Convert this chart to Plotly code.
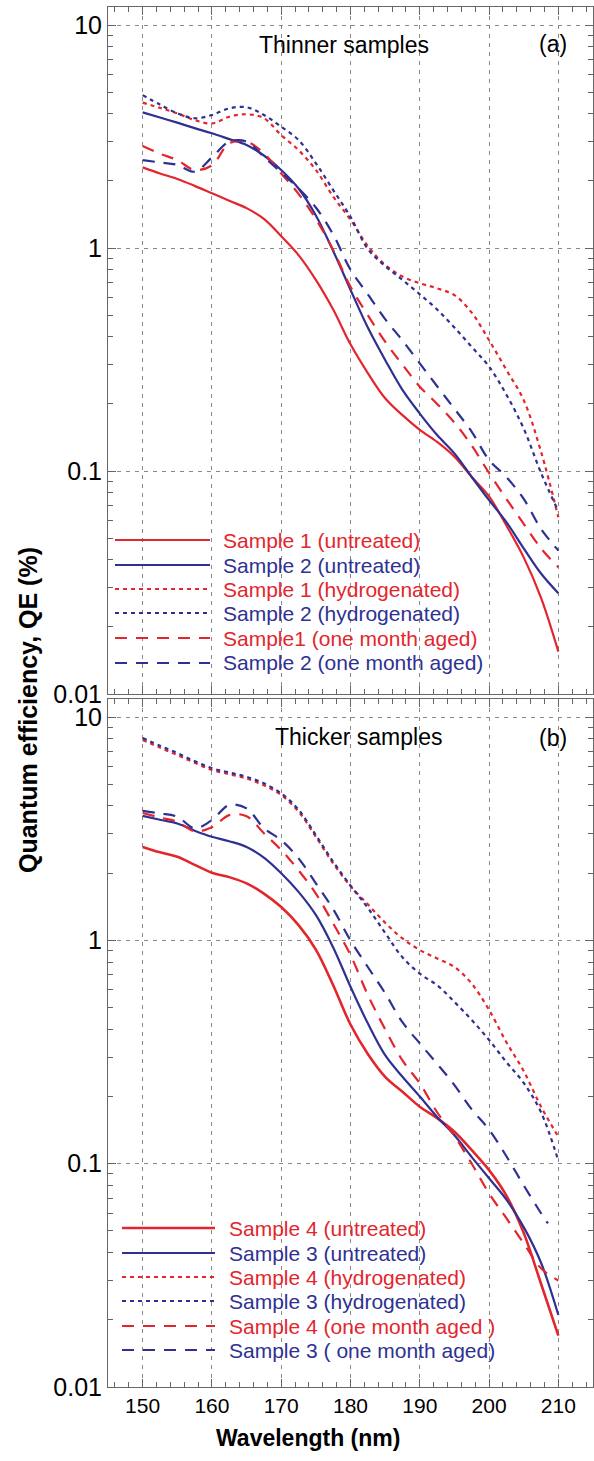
import plotly.graph_objects as go

# ---------------- data ----------------
wl = [150, 152.5, 155, 157.5, 160, 162.5, 165, 167.5, 170, 172.5, 175, 177.5, 180,
      182.5, 185, 187.5, 190, 192.5, 195, 197.5, 200, 202.5, 205, 207.5, 210]
wl_s3_aged = wl[:-1] + [208.5]

# panel (a) thinner samples
s1_untreated = [2.30, 2.16, 2.04, 1.90, 1.76, 1.63, 1.51, 1.35, 1.13, 0.93, 0.72, 0.53, 0.37,
                0.275, 0.212, 0.178, 0.153, 0.135, 0.116, 0.094, 0.077, 0.057, 0.041, 0.027, 0.0155]
s2_untreated = [4.06, 3.85, 3.65, 3.45, 3.27, 3.08, 2.90, 2.60, 2.24, 1.85, 1.40, 0.97, 0.65,
                0.44, 0.315, 0.231, 0.181, 0.145, 0.120, 0.094, 0.074, 0.059, 0.045, 0.0347, 0.0283]
s1_hydro = [4.49, 4.25, 4.02, 3.75, 3.62, 3.88, 3.98, 3.82, 3.21, 2.75, 2.24, 1.70, 1.34,
            1.02, 0.84, 0.745, 0.695, 0.66, 0.615, 0.513, 0.386, 0.284, 0.208, 0.122, 0.062]
s2_hydro = [4.85, 4.40, 4.02, 3.82, 3.95, 4.23, 4.28, 3.95, 3.50, 3.05, 2.40, 1.82, 1.38,
            0.99, 0.83, 0.72, 0.62, 0.53, 0.44, 0.36, 0.294, 0.22, 0.155, 0.098, 0.066]
s1_aged = [2.87, 2.65, 2.48, 2.24, 2.35, 2.95, 3.00, 2.66, 2.16, 1.75, 1.35, 0.98, 0.67,
           0.50, 0.38, 0.30, 0.239, 0.20, 0.165, 0.13, 0.098, 0.075, 0.058, 0.045, 0.037]
s2_aged = [2.48, 2.42, 2.36, 2.20, 2.55, 3.00, 3.00, 2.56, 2.18, 1.85, 1.52, 1.15, 0.80,
           0.62, 0.48, 0.385, 0.304, 0.24, 0.19, 0.150, 0.112, 0.094, 0.075, 0.055, 0.044]

# panel (b) thicker samples
s4_untreated = [2.62, 2.48, 2.37, 2.18, 2.01, 1.92, 1.80, 1.62, 1.41, 1.17, 0.91, 0.63, 0.42,
                0.31, 0.245, 0.21, 0.18, 0.16, 0.139, 0.115, 0.0936, 0.072, 0.049, 0.029, 0.017]
s3_untreated = [3.61, 3.47, 3.34, 3.10, 2.91, 2.78, 2.62, 2.35, 2.00, 1.65, 1.30, 0.93, 0.62,
                0.425, 0.306, 0.245, 0.20, 0.162, 0.134, 0.107, 0.086, 0.069, 0.052, 0.036, 0.021]
s4_hydro = [7.90, 7.30, 6.76, 6.25, 5.80, 5.55, 5.31, 4.95, 4.48, 3.77, 2.91, 2.21, 1.75,
            1.45, 1.20, 1.02, 0.906, 0.83, 0.76, 0.64, 0.488, 0.35, 0.26, 0.18, 0.132]
s3_hydro = [8.05, 7.45, 6.90, 6.35, 5.90, 5.65, 5.40, 5.05, 4.55, 3.85, 2.96, 2.25, 1.76,
            1.40, 1.08, 0.84, 0.71, 0.63, 0.53, 0.44, 0.358, 0.285, 0.23, 0.17, 0.103]
s4_aged = [3.72, 3.55, 3.40, 3.08, 3.21, 3.64, 3.60, 3.02, 2.54, 2.06, 1.62, 1.19, 0.86,
           0.57, 0.40, 0.29, 0.229, 0.17, 0.133, 0.10, 0.0736, 0.057, 0.044, 0.034, 0.030]
s3_aged = [3.80, 3.70, 3.58, 3.18, 3.46, 4.04, 3.90, 3.18, 2.81, 2.33, 1.80, 1.38, 1.00,
           0.76, 0.58, 0.43, 0.346, 0.28, 0.225, 0.175, 0.142, 0.108, 0.080, 0.060, 0.054]

names_a = ["Sample 1 (untreated)", "Sample 2 (untreated)", "Sample 1 (hydrogenated)",
           "Sample 2 (hydrogenated)", "Sample1 (one month aged)", "Sample 2 (one month aged)"]
names_b = ["Sample 4 (untreated)", "Sample 3 (untreated)", "Sample 4 (hydrogenated)",
           "Sample 3 (hydrogenated)", "Sample 4 (one month aged )", "Sample 3 ( one month aged)"]

y_tick_vals = [0.01, 0.1, 1, 10]
y_tick_text = ["0.01", "0.1", "1", "10"]
x_tick_vals = [150, 160, 170, 180, 190, 200, 210]

# ---------------- styles ----------------
RED = "#e3262d"
BLUE = "#2e3192"
DOT = "4px,4px"
DASH = "12px,9px"
FONT = "Liberation Sans, Arial, sans-serif"

W, H = 594, 1461
ML, MR, MT, MB = 108, 1, 7, 74
PW, PH = W - ML - MR, H - MT - MB


def px(xp):
    return (xp - ML) / PW


def py(yp):
    return (H - MB - yp) / PH


series_a = [
    (wl, s1_untreated, RED, "solid", 2.2),
    (wl, s2_untreated, BLUE, "solid", 2.2),
    (wl, s1_hydro, RED, DOT, 2.2),
    (wl, s2_hydro, BLUE, DOT, 2.2),
    (wl, s1_aged, RED, DASH, 2.2),
    (wl, s2_aged, BLUE, DASH, 2.2),
]
series_b = [
    (wl, s4_untreated, RED, "solid", 2.6),
    (wl, s3_untreated, BLUE, "solid", 2.2),
    (wl, s4_hydro, RED, DOT, 2.2),
    (wl, s3_hydro, BLUE, DOT, 2.2),
    (wl, s4_aged, RED, DASH, 2.2),
    (wl_s3_aged, s3_aged, BLUE, DASH, 2.2),
]

fig = go.Figure()
for (xs, ys, c, d, w), n in zip(series_a, names_a):
    fig.add_trace(go.Scatter(x=xs, y=ys, mode="lines", name=n, showlegend=False,
                             line=dict(color=c, dash=d, width=w, shape="spline", smoothing=1.0),
                             xaxis="x", yaxis="y"))
for (xs, ys, c, d, w), n in zip(series_b, names_b):
    fig.add_trace(go.Scatter(x=xs, y=ys, mode="lines", name=n, showlegend=False,
                             line=dict(color=c, dash=d, width=w, shape="spline", smoothing=1.0),
                             xaxis="x2", yaxis="y2"))

minor_y = [m * 10 ** e for e in (-2, -1, 0) for m in range(2, 10)]

axis_common = dict(showline=True, linecolor="#666", linewidth=1, mirror="ticks",
                   ticks="inside", ticklen=8, tickcolor="#666",
                   showgrid=True, gridcolor="#8a8a8a", gridwidth=1, griddash="4px,5px",
                   zeroline=False)

xcommon = dict(axis_common, range=[145, 215], tickvals=x_tick_vals,
               minor=dict(dtick=2, tick0=150, ticks="inside", ticklen=5, tickcolor="#666", showgrid=False))
ycommon = dict(axis_common, type="log", range=[-2, 1.081], tickvals=y_tick_vals, ticktext=y_tick_text,
               tickfont=dict(size=25, color="black", family=FONT),
               minor=dict(tickvals=minor_y, ticks="inside", ticklen=5, tickcolor="#666", showgrid=False))

fig.update_layout(
    width=W, height=H,
    margin=dict(l=ML, r=MR, t=MT, b=MB),
    paper_bgcolor="white", plot_bgcolor="white",
    font=dict(family=FONT, color="black"),
    showlegend=False,
    xaxis=dict(xcommon, anchor="y", showticklabels=False),
    yaxis=dict(ycommon, anchor="x", domain=[py(694), 1.0]),
    xaxis2=dict(xcommon, anchor="y2", tickfont=dict(size=21, color="black", family=FONT)),
    yaxis2=dict(ycommon, anchor="x2", domain=[0.0, py(699)]),
)

ann = []
shapes = []
# titles
ann.append(dict(text="<b>Quantum efficiency, QE (%)</b>", x=px(28), y=py(710), xref="paper", yref="paper",
                textangle=-90, showarrow=False, font=dict(size=25, family=FONT, color="black"),
                xanchor="center", yanchor="middle"))
ann.append(dict(text="<b>Wavelength (nm)</b>", x=px(308), y=py(1438), xref="paper", yref="paper",
                showarrow=False, font=dict(size=23, family=FONT, color="black"),
                xanchor="center", yanchor="middle"))
# panel labels
for txt, xp, yp in [("Thinner samples", 344, 45), ("(a)", 553, 44),
                    ("Thicker samples", 358, 737), ("(b)", 553, 738)]:
    ann.append(dict(text=txt, x=px(xp), y=py(yp), xref="paper", yref="paper", showarrow=False,
                    font=dict(size=23, family=FONT, color="black"), xanchor="center", yanchor="middle"))

# manual legends
legend_a_rows = [540, 565, 589, 613, 638, 663]
legend_b_rows = [1228, 1253, 1277, 1301, 1326, 1350]
for series, names, rows, x0, x1, xt in [(series_a, names_a, legend_a_rows, 115, 210, 221),
                                        (series_b, names_b, legend_b_rows, 122, 215, 227)]:
    for (xs, ys, c, d, w), n, r in zip(series, names, rows):
        shapes.append(dict(type="line", xref="paper", yref="paper", x0=px(x0), x1=px(x1),
                           y0=py(r), y1=py(r), line=dict(color=c, dash=d, width=w)))
        ann.append(dict(text=n, x=px(xt), y=py(r), xref="paper", yref="paper", showarrow=False,
                        font=dict(size=21, family=FONT, color=c), xanchor="left", yanchor="middle"))

fig.update_layout(annotations=ann, shapes=shapes)
fig.write_html("out.html")
